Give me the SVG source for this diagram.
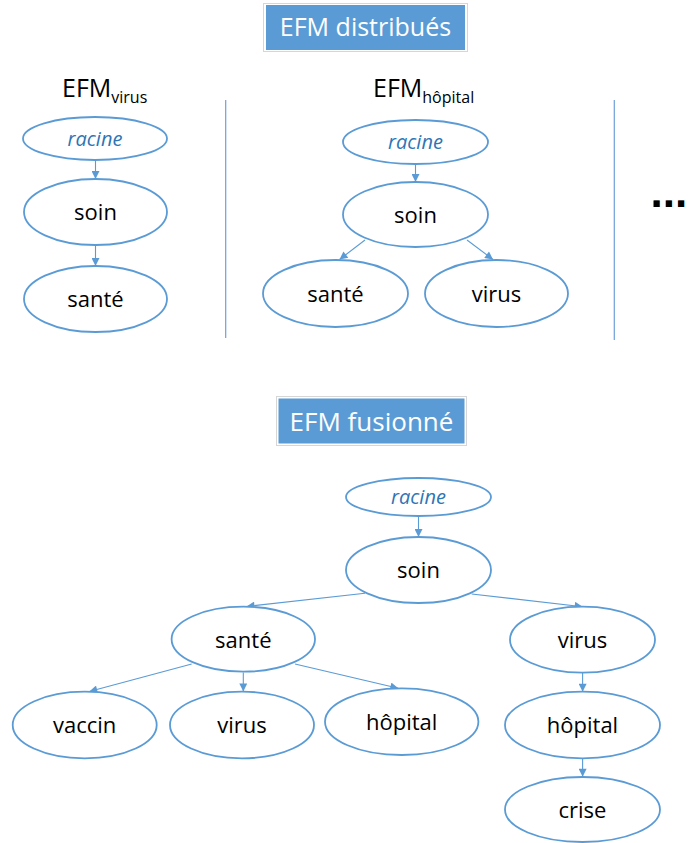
<svg xmlns="http://www.w3.org/2000/svg" width="688" height="843" viewBox="0 0 688 843">
<style>
.n ellipse{fill:#fff;stroke:#5B9BD5;stroke-width:1.8}
.t{font-family:"Open Sans","Liberation Sans",sans-serif;font-size:22px;fill:#000;text-anchor:middle}
.r{font-family:"Open Sans","Liberation Sans",sans-serif;font-size:20px;font-style:italic;fill:#2E75B6;text-anchor:middle}
.c line{stroke:#5B9BD5;stroke-width:1.1;marker-end:url(#ah)}
.ttl{font-family:"Open Sans","Liberation Sans",sans-serif;fill:#fff;text-anchor:middle}
.lbl{font-family:"Open Sans","Liberation Sans",sans-serif;fill:#000;font-size:25px}
.sep{stroke:#6F9FD8;stroke-width:1.2}
</style>
<defs>
<marker id="ah" viewBox="0 0 10 10" refX="10" refY="5" markerWidth="9" markerHeight="8" markerUnits="userSpaceOnUse" orient="auto">
<path d="M0,0 L10,5 L0,10 z" fill="#5B9BD5"/>
</marker>
</defs>
<rect width="688" height="843" fill="#fff"/>

<g id="title1">
<rect x="263.5" y="3.5" width="204" height="48" fill="#fff" stroke="#d6d6d6" stroke-width="1"/>
<rect x="266" y="5" width="199" height="45" fill="#5B9BD5"/>
<text class="ttl" x="365.5" y="36" font-size="25">EFM distribués</text>
</g>
<g id="title2">
<rect x="276.5" y="396.5" width="190" height="49" fill="#fff" stroke="#d6d6d6" stroke-width="1"/>
<rect x="278.5" y="398.5" width="186" height="45" fill="#5B9BD5"/>
<text class="ttl" x="371.5" y="431" font-size="26">EFM fusionné</text>
</g>

<g id="label-virus"><text class="lbl" x="62" y="97">EFM<tspan font-size="16" dy="6">virus</tspan></text></g>
<g id="label-hopital"><text class="lbl" x="373" y="97">EFM<tspan font-size="16" dy="6">hôpital</tspan></text></g>

<g id="separators">
<line class="sep" x1="225.7" y1="100" x2="225.7" y2="338"/>
<line class="sep" x1="614.3" y1="100" x2="614.3" y2="340"/>
</g>
<g id="ellipsis"><text x="650.5" y="206.5" font-family="Liberation Sans, sans-serif" font-weight="bold" font-size="44" fill="#000">...</text></g>

<g class="c" id="connectors">
<line x1="95.5" y1="160" x2="95.5" y2="179"/>
<line x1="95.5" y1="245" x2="95.5" y2="266"/>
<line x1="415.5" y1="164" x2="415.5" y2="182"/>
<line x1="365" y1="240" x2="339.5" y2="259.5"/>
<line x1="467" y1="240" x2="493" y2="259.5"/>
<line x1="418.5" y1="516" x2="418.5" y2="537"/>
<line x1="365" y1="593.3" x2="246.5" y2="606.5"/>
<line x1="471.7" y1="594" x2="582.7" y2="606.7"/>
<line x1="191.7" y1="664" x2="89.3" y2="691.5"/>
<line x1="243.3" y1="672.5" x2="243.3" y2="691.5"/>
<line x1="295" y1="664" x2="398.3" y2="688.3"/>
<line x1="582.6" y1="672.7" x2="582.6" y2="691.7"/>
<line x1="582.6" y1="758.3" x2="582.6" y2="776.7"/>
</g>

<g class="n" id="v-racine"><ellipse cx="95" cy="138.5" rx="72" ry="21.5"/><text class="r" x="95" y="145.5">racine</text></g>
<g class="n" id="v-soin"><ellipse cx="95.5" cy="212" rx="71.5" ry="33"/><text class="t" x="95.5" y="220">soin</text></g>
<g class="n" id="v-sante"><ellipse cx="95.5" cy="299" rx="71.5" ry="33"/><text class="t" x="95.5" y="307">santé</text></g>

<g class="n" id="h-racine"><ellipse cx="415.5" cy="142" rx="72.5" ry="22"/><text class="r" x="415.5" y="149">racine</text></g>
<g class="n" id="h-soin"><ellipse cx="415.5" cy="214.5" rx="72.5" ry="32.5"/><text class="t" x="415.5" y="222.5">soin</text></g>
<g class="n" id="h-sante"><ellipse cx="335.5" cy="293.5" rx="72.5" ry="33.5"/><text class="t" x="335.5" y="301.5">santé</text></g>
<g class="n" id="h-virus"><ellipse cx="496.5" cy="293.5" rx="71.5" ry="33.5"/><text class="t" x="496.5" y="301.5">virus</text></g>

<g class="n" id="f-racine"><ellipse cx="418.5" cy="497" rx="72.5" ry="19"/><text class="r" x="418.5" y="504">racine</text></g>
<g class="n" id="f-soin"><ellipse cx="418.5" cy="570" rx="72.5" ry="33"/><text class="t" x="418.5" y="578">soin</text></g>
<g class="n" id="f-sante"><ellipse cx="243.3" cy="639.2" rx="71.7" ry="32.5"/><text class="t" x="243.3" y="647.5">santé</text></g>
<g class="n" id="f-virus"><ellipse cx="582.5" cy="639.7" rx="72.5" ry="33"/><text class="t" x="582.5" y="647.7">virus</text></g>
<g class="n" id="f-vaccin"><ellipse cx="84.7" cy="725" rx="72" ry="33.3"/><text class="t" x="84.7" y="733">vaccin</text></g>
<g class="n" id="f-virus2"><ellipse cx="242" cy="725" rx="72" ry="33.3"/><text class="t" x="242" y="733">virus</text></g>
<g class="n" id="f-hopital"><ellipse cx="401.7" cy="721.7" rx="76.7" ry="33.3"/><text class="t" x="401.7" y="729.7">hôpital</text></g>
<g class="n" id="f-hopital2"><ellipse cx="582.5" cy="725" rx="77.5" ry="33.3"/><text class="t" x="582.5" y="733">hôpital</text></g>
<g class="n" id="f-crise"><ellipse cx="582.5" cy="809.5" rx="77.5" ry="32.5"/><text class="t" x="582.5" y="817.5">crise</text></g>
</svg>
